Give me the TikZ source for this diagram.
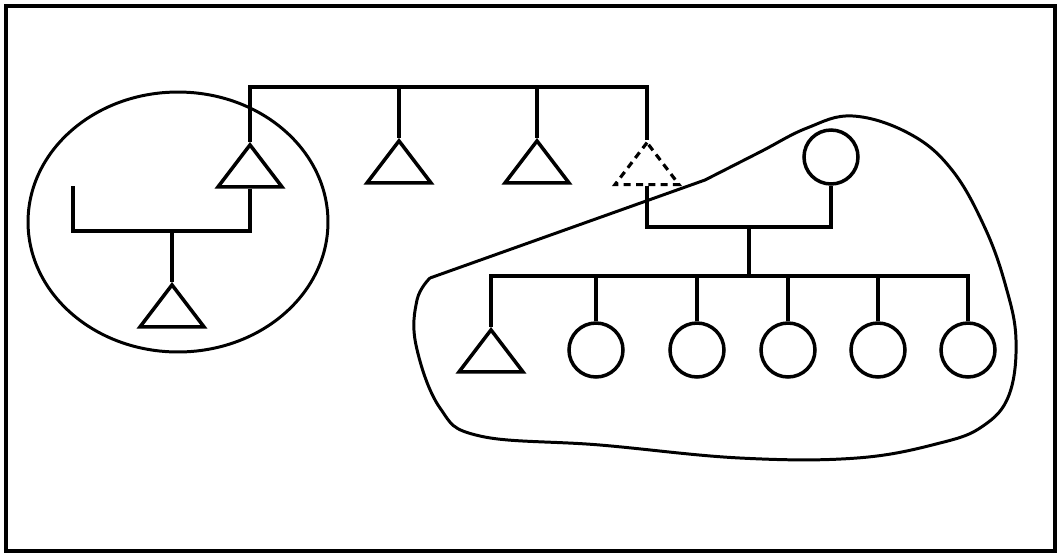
\documentclass[tikz,border=0pt]{standalone}
\usepackage{tikz}
\usetikzlibrary{shapes.geometric, positioning}
\tikzset{
  male/.style={isosceles triangle, isosceles triangle apex angle=75,
               shape border rotate=90, isosceles triangle stretches,
               draw=black, line width=2pt, inner sep=0pt,
               minimum width=1.28cm, minimum height=0.84cm},
  ghost/.style={male, line width=1.8pt, dash pattern=on 4pt off 3pt},
  female/.style={circle, draw=black, line width=2pt, inner sep=0pt,
                 minimum size=1.08cm},
  tie/.style={line width=2pt},
  hull/.style={line width=1.7pt},
}
\begin{document}
\begin{tikzpicture}[x=0.02cm, y=-0.02cm]
    \useasboundingbox (0,0) rectangle (1059,556);
    \draw[line width=2pt] (6,6) rectangle (1055,551);
    % groups
    \node[ellipse, draw=black, hull, minimum width=6cm, minimum height=5.2cm] (grpA) at (178,222) {};
    \draw[hull] (430,278) -- (705,180)
      plot[smooth, tension=0.65] coordinates {(705,180) (760,152) (807,128) (853,116) (910,134)
        (952,170) (985,228) (1006,287) (1016,340) (1009,395) (983,426) (940,443) (857,458)
        (740,458) (600,445) (480,436) (440,408) (416,345) (417,300) (430,278)};
    % sibship on top
    \coordinate (topbar) at (0,87);
    \node[male, anchor=apex] (sonA) at (250,142) {};
    \node[male, anchor=apex] (sonB) at (399,138) {};
    \node[male, anchor=apex] (sonC) at (537,138) {};
    \node[ghost, anchor=apex] (sonD) at (647,140) {};
    \draw[tie] (sonA.apex) -- (sonA.apex |- topbar) -- (sonD.apex |- topbar) -- (sonD.apex);
    \draw[tie] (sonB.apex) -- (sonB.apex |- topbar);
    \draw[tie] (sonC.apex) -- (sonC.apex |- topbar);
    % left family
    \coordinate (famA) at (172,231);
    \coordinate (mateA) at (73,186);
    \node[male, anchor=apex] (kidA) at (172,282) {};
    \draw[tie] (sonA.lower side) |- (mateA |- famA) -- (mateA);
    \draw[tie] (famA) -- (kidA.apex);
    % right family
    \node[female] (wifeD) at (831,157) {};
    \coordinate (famD) at (749,227);
    \coordinate (kids) at (749,276);
    \draw[tie] (sonD.lower side) |- (wifeD.south |- famD) -- (wifeD.south);
    \draw[tie] (famD) -- (kids);
    \node[male, anchor=apex] (kid1) at (491,327) {};
    \node[female] (kid2) at (596,350) {};
    \node[female] (kid3) at (697,350) {};
    \node[female] (kid4) at (788,350) {};
    \node[female] (kid5) at (878,350) {};
    \node[female] (kid6) at (968,350) {};
    \draw[tie] (kid1.apex) -- (kid1.apex |- kids) -- (kid6.north |- kids) -- (kid6.north);
    \foreach \k in {kid2, kid3, kid4, kid5}
      \draw[tie] (\k.north) -- (\k.north |- kids);
  \end{tikzpicture}
\end{document}
